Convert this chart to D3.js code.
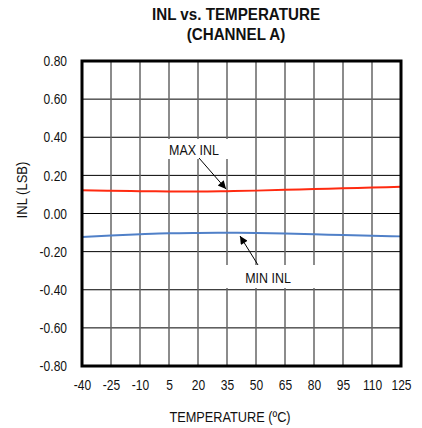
<!DOCTYPE html>
<html><head><meta charset="utf-8">
<script src="https://cdn.jsdelivr.net/npm/d3@7"></script>
<style>
body{margin:0;background:#fff;}
text{font-family:"Liberation Sans",Arial,sans-serif;fill:#111;}
</style></head>
<body><svg id="c" width="422" height="428"></svg>
<script>
const temps = [-40,-25,-10,5,20,35,50,65,80,95,110,125];
const maxINL = [0.122,0.119,0.117,0.116,0.115,0.117,0.120,0.124,0.128,0.132,0.136,0.140];
const minINL = [-0.123,-0.115,-0.109,-0.104,-0.102,-0.101,-0.102,-0.105,-0.109,-0.113,-0.117,-0.120];
const yTicks = [-0.8,-0.6,-0.4,-0.2,0,0.2,0.4,0.6,0.8];
const xTicks = [-40,-25,-10,5,20,35,50,65,80,95,110,125];
const title1 = "INL vs. TEMPERATURE", title2 = "(CHANNEL A)";
const xTitle = "TEMPERATURE (ºC)", yTitle = "INL (LSB)";

const svg = d3.select("#c");
const L=82,R=401,T=61,B=366;
const x = d3.scaleLinear().domain([-40,125]).range([L,R]);
const y = d3.scaleLinear().domain([-0.8,0.8]).range([B,T]);

// condensed text helper
function ctext(g, X, Y, k, size, str, bold){
  return g.append("text").attr("x",X/k).attr("y",Y).attr("transform",`scale(${k},1)`)
    .attr("text-anchor","middle").attr("font-size",size).attr("font-weight",bold?"bold":null).text(str);
}

ctext(svg,236,20,0.92,16.5,title1,true);
ctext(svg,236,40,0.92,16.5,title2,true);

// grid
svg.append("g").selectAll("line").data(yTicks.slice(1,-1)).join("line")
  .attr("x1",L).attr("x2",R).attr("y1",d=>y(d)).attr("y2",d=>y(d))
  .attr("stroke","#000").attr("stroke-width",1);
svg.append("g").selectAll("line").data(xTicks.slice(1,-1)).join("line")
  .attr("y1",T).attr("y2",B).attr("x1",d=>x(d)).attr("x2",d=>x(d))
  .attr("stroke","#666").attr("stroke-width",1.5);

const K = 0.83;
const fmtY = d => d3.format(".2f")(d).replace("−","-");
const yAxis = d3.axisLeft(y).tickValues(yTicks).tickFormat(fmtY).tickSize(0).tickPadding(15);
const gy = svg.append("g").attr("transform",`translate(${L},0)`).call(yAxis);
gy.select(".domain").remove();
gy.selectAll("text").attr("font-size",14.5).attr("fill","#111").style("font-family",null)
  .attr("x",-15/K).attr("transform",`scale(${K},1)`);

const xAxis = d3.axisBottom(x).tickValues(xTicks).tickFormat(d=>String(d)).tickSize(0).tickPadding(14);
const gx = svg.append("g").attr("transform",`translate(0,${B})`).call(xAxis);
gx.select(".domain").remove();
gx.selectAll("text").attr("font-size",14.5).attr("fill","#111").style("font-family",null)
  .attr("transform",`scale(${K},1)`);

ctext(svg,230,422,0.88,14.5,xTitle,false);
svg.append("g").attr("transform","translate(27,190) rotate(-90)").call(g=>ctext(g,0,0,0.9,14.5,yTitle,false));

// label boxes
svg.append("rect").attr("x",162).attr("y",139).attr("width",70).attr("height",20).attr("fill","#fff");
svg.append("rect").attr("x",224).attr("y",265).attr("width",94).attr("height",23).attr("fill","#fff");
ctext(svg,194,155,0.86,14.5,"MAX INL",false);
ctext(svg,268,283,0.86,14.5,"MIN INL",false);

// arrows
const defs = svg.append("defs");
defs.append("marker").attr("id","ah").attr("viewBox","0 0 10 10").attr("refX",10).attr("refY",5)
  .attr("markerWidth",10).attr("markerHeight",8).attr("markerUnits","userSpaceOnUse").attr("orient","auto")
  .append("path").attr("d","M0,0L10,5L0,10z").attr("fill","#000");
svg.append("line").attr("x1",199).attr("y1",158).attr("x2",226).attr("y2",189)
  .attr("stroke","#000").attr("stroke-width",1).attr("marker-end","url(#ah)");
svg.append("line").attr("x1",258).attr("y1",265).attr("x2",240).attr("y2",236)
  .attr("stroke","#000").attr("stroke-width",1).attr("marker-end","url(#ah)");

// curves
const line = d3.line().x((d,i)=>x(temps[i])).y(d=>y(d)).curve(d3.curveMonotoneX);
svg.append("path").attr("d",line(maxINL)).attr("fill","none").attr("stroke","#ff2a10").attr("stroke-width",2);
svg.append("path").attr("d",line(minINL)).attr("fill","none").attr("stroke","#5080c8").attr("stroke-width",2);

// frame
svg.append("rect").attr("x",L).attr("y",T).attr("width",R-L).attr("height",B-T)
  .attr("fill","none").attr("stroke","#000").attr("stroke-width",3);
</script></body></html>
